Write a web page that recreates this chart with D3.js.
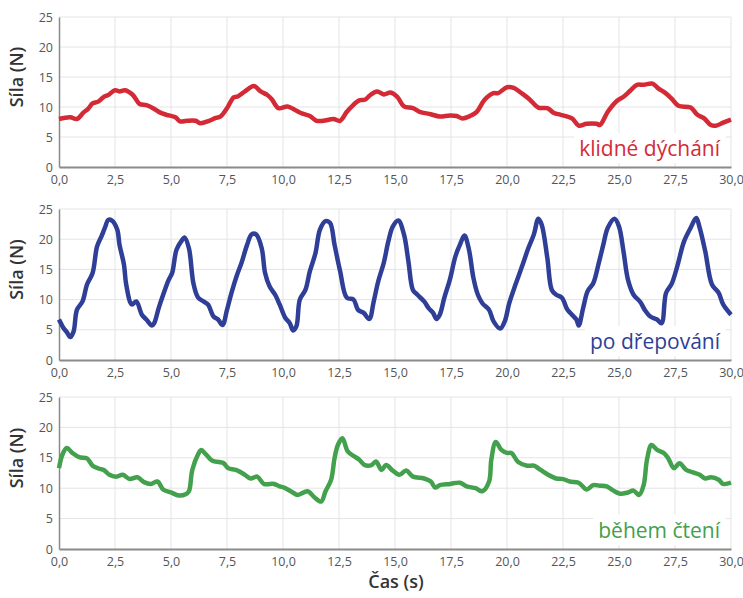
<!DOCTYPE html>
<html>
<head>
<meta charset="utf-8">
<script src="https://cdn.jsdelivr.net/npm/d3@7"></script>
<style>
  body { margin: 0; background: #fff; }
  text { font-family: "Open Sans", "Noto Sans", sans-serif; }
</style>
</head>
<body>
<svg id="svg"></svg>
<script>
// data: time (s) and force (N)
var klidneT = [0,0.5,0.8,1.1,1.3,1.5,1.75,2.0,2.2,2.5,2.7,2.95,3.3,3.6,3.9,4.2,4.5,4.8,5.2,5.4,5.7,6.1,6.3,6.7,7.0,7.2,7.5,7.8,8.0,8.3,8.7,9.0,9.3,9.5,9.8,10.2,10.5,10.8,11.2,11.5,11.8,12.25,12.55,12.85,13.1,13.4,13.65,13.9,14.2,14.5,14.8,15.1,15.4,15.8,16.1,16.6,17.0,17.45,17.75,18.0,18.35,18.65,19.0,19.4,19.6,20.0,20.3,20.65,21.0,21.4,21.8,22.1,22.4,22.9,23.2,23.55,24.0,24.15,24.5,24.9,25.2,25.5,25.8,26.1,26.5,26.75,27.05,27.35,27.65,28.2,28.5,28.8,29.1,29.35,29.65,30.0];
var klidneF = [8.0,8.3,8.0,9.1,9.7,10.6,10.9,11.7,12.0,12.8,12.6,12.8,12.0,10.5,10.3,9.8,9.1,8.7,8.3,7.6,7.7,7.7,7.3,7.7,8.2,8.4,9.8,11.6,11.8,12.6,13.5,12.6,12.0,11.3,9.8,10.1,9.6,9.0,8.5,7.7,7.7,8.0,7.7,9.2,10.2,11.1,11.2,12.0,12.6,12.1,12.4,11.7,10.1,9.8,9.2,8.8,8.4,8.6,8.5,8.1,8.5,9.2,11.2,12.3,12.3,13.3,13.2,12.3,11.3,9.9,9.8,9.0,8.7,8.1,6.9,7.2,7.2,7.0,9.2,11.0,11.7,12.7,13.7,13.7,13.9,13.1,12.4,11.4,10.2,9.9,8.7,8.1,7.0,6.9,7.4,7.9];

var drepT = [0,0.2,0.35,0.5,0.65,0.8,1.05,1.25,1.5,1.7,1.9,2.05,2.2,2.35,2.6,2.7,2.9,3.0,3.25,3.45,3.7,3.9,4.15,4.25,4.45,4.65,4.9,5.05,5.25,5.5,5.6,5.8,6.0,6.2,6.45,6.65,6.9,7.1,7.3,7.5,7.7,7.95,8.15,8.4,8.6,8.8,9.05,9.2,9.4,9.65,9.85,10.1,10.3,10.45,10.6,10.75,11.0,11.2,11.45,11.65,11.9,12.1,12.3,12.55,12.85,13.15,13.35,13.6,13.85,14.05,14.25,14.5,14.7,14.9,15.15,15.4,15.6,15.8,16.0,16.3,16.5,16.7,16.85,17.0,17.2,17.45,17.7,17.9,18.1,18.3,18.5,18.7,18.9,19.2,19.4,19.7,19.9,20.1,20.4,20.7,20.95,21.2,21.4,21.55,21.8,22.0,22.2,22.45,22.7,22.9,23.1,23.2,23.4,23.6,23.85,24.1,24.3,24.5,24.8,25.0,25.2,25.4,25.65,25.95,26.15,26.4,26.7,26.9,27.1,27.35,27.6,27.9,28.2,28.45,28.6,28.85,29.15,29.45,29.65,30.0];
var drepF = [6.7,5.3,4.6,3.8,4.7,8.3,9.7,12.5,14.4,18.8,20.5,21.9,23.2,23.1,21.6,19.1,15.8,12.5,9.2,9.7,7.5,6.7,5.7,6.1,8.6,10.8,13.3,14.4,18.3,19.9,20.3,18.5,12.7,10.4,9.7,9.2,7.2,6.7,5.8,8.3,11.1,14.1,16.1,19.1,20.8,20.8,18.5,14.4,12.2,10.8,9.2,7.0,6.1,4.9,5.6,10.0,11.6,14.7,17.7,21.6,23.0,22.7,19.1,14.7,10.3,10.0,8.3,7.8,6.8,9.7,13.0,16.1,19.6,22.1,23.1,20.8,16.3,11.6,10.8,9.7,8.6,7.8,6.8,7.5,10.3,13.3,17.2,19.1,20.6,18.3,13.6,10.8,9.4,8.3,6.4,5.2,6.4,9.4,12.7,15.8,18.5,20.8,23.4,22.4,16.9,11.6,10.8,10.3,8.3,7.5,6.7,5.7,8.6,11.4,12.7,16.1,19.1,21.9,23.4,22.1,18.0,13.3,10.8,9.6,8.3,7.2,6.7,6.1,11.1,12.6,15.5,19.6,21.9,23.5,21.9,18.0,12.5,11.1,9.2,7.5];

var cteniT = [0,0.15,0.35,0.6,0.9,1.25,1.5,1.8,2.0,2.25,2.55,2.85,3.15,3.5,3.8,4.1,4.4,4.65,5.0,5.35,5.65,5.8,5.95,6.2,6.35,6.55,6.85,7.15,7.35,7.55,7.9,8.3,8.55,8.85,9.15,9.6,9.85,10.05,10.35,10.65,11.1,11.4,11.7,11.9,12.15,12.3,12.45,12.65,12.9,13.2,13.4,13.65,13.95,14.15,14.4,14.6,14.9,15.2,15.5,15.8,16.3,16.6,16.8,17.0,17.45,17.9,18.2,18.6,18.9,19.2,19.3,19.5,19.75,20.0,20.2,20.5,20.9,21.2,21.5,21.8,22.2,22.5,22.8,23.2,23.55,23.85,24.15,24.45,24.75,25.05,25.4,25.65,25.9,26.1,26.25,26.45,26.7,27.0,27.2,27.45,27.7,28.0,28.3,28.6,28.85,29.1,29.45,29.65,30.0];
var cteniF = [13.3,15.5,16.6,15.8,15.1,14.9,13.7,13.2,13.0,12.2,11.9,12.2,11.5,11.8,11.0,10.7,11.1,9.8,9.3,8.8,9.0,9.5,13.0,15.5,16.3,15.6,14.5,14.3,14.1,13.3,13.0,12.2,11.6,11.9,10.7,10.7,10.3,10.1,9.5,8.9,9.5,8.5,7.8,9.5,11.4,14.9,17.1,18.2,16.0,15.2,14.7,13.8,13.8,14.4,13.0,13.8,12.9,12.2,12.9,11.9,11.6,11.1,10.1,10.5,10.7,10.9,10.3,10.0,9.5,11.1,14.7,17.6,16.3,15.8,15.8,14.3,13.7,13.7,13.0,12.3,11.6,11.5,11.1,10.9,9.8,10.5,10.4,10.3,9.6,9.1,9.3,9.6,8.9,10.5,14.7,17.1,16.3,15.8,14.9,13.3,14.1,13.0,12.6,12.2,11.6,11.8,11.4,10.7,10.9];

var xTicks = [0,2.5,5,7.5,10,12.5,15,17.5,20,22.5,25,27.5,30];
var yTicks = [0,5,10,15,20,25];

var panels = [
  {t: klidneT, f: klidneF, name: "klidné dýchání", color: "#d42a35", top: 17, bottom: 167},
  {t: drepT, f: drepF, name: "po dřepování", color: "#2f3e97", top: 209, bottom: 360},
  {t: cteniT, f: cteniF, name: "během čtení", color: "#43a04c", top: 397, bottom: 549}
];

var W = 743, H = 598;
var left = 59, right = 731;

var svg = d3.select("#svg")
    .attr("width", W)
    .attr("height", H);

var x_scale = d3.scaleLinear().domain([0, 30]).range([left, right]);
var fmt = function(d){ return d3.format(".1f")(d).replace(".", ","); };

panels.forEach(function(p){
  var y_scale = d3.scaleLinear().domain([0, 25]).range([p.bottom, p.top]);
  var g = svg.append("g");

  // grid
  g.selectAll(".hg").data(yTicks.slice(1)).enter().append("line")
    .attr("x1", left).attr("x2", right)
    .attr("y1", function(d){ return y_scale(d); })
    .attr("y2", function(d){ return y_scale(d); })
    .attr("stroke", "#e4e4e4").attr("stroke-width", 1);
  g.selectAll(".vg").data(xTicks.slice(1)).enter().append("line")
    .attr("x1", function(d){ return x_scale(d); })
    .attr("x2", function(d){ return x_scale(d); })
    .attr("y1", p.top).attr("y2", p.bottom)
    .attr("stroke", "#e4e4e4").attr("stroke-width", 1);

  // axes
  var xAxis = g.append("g")
    .attr("transform", "translate(0," + p.bottom + ")")
    .call(d3.axisBottom(x_scale).tickValues(xTicks).tickFormat(fmt).tickSize(0).tickPadding(8));
  xAxis.select(".domain").attr("stroke", "#8a8a8a").attr("stroke-width", 2);
  xAxis.selectAll("text").attr("fill", "#555").style("font-size", "12.5px");

  var yAxis = g.append("g")
    .attr("transform", "translate(" + left + ",0)")
    .call(d3.axisLeft(y_scale).tickValues(yTicks).tickSize(0).tickPadding(6));
  yAxis.select(".domain").attr("stroke", "#8a8a8a").attr("stroke-width", 1.5);
  yAxis.selectAll("text").attr("fill", "#555").style("font-size", "12.5px");

  g.append("text")
    .attr("transform", "translate(23," + ((p.top + p.bottom) / 2 - 15) + ") rotate(-90)")
    .attr("text-anchor", "middle")
    .attr("fill", "#333")
    .style("font-size", "18px")
    .style("font-weight", 600)
    .text("Síla (N)");

  // line
  var lineData = p.t.map(function(t, i){ return {t: t, f: p.f[i]}; });
  var lineFunction = d3.line()
    .x(function(d){ return x_scale(d.t); })
    .y(function(d){ return y_scale(d.f); })
    .curve(d3.curveCatmullRom.alpha(0.5));
  g.append("path")
    .attr("d", lineFunction(lineData))
    .attr("stroke", p.color)
    .attr("stroke-width", 4.5)
    .attr("stroke-linejoin", "round")
    .attr("fill", "none");

  // series label with white box behind it
  var box = g.append("rect").attr("fill", "#fff");
  var lab = g.append("text")
    .attr("x", 720)
    .attr("y", p.bottom - 11)
    .attr("text-anchor", "end")
    .attr("fill", p.color)
    .style("font-size", "21px")
    .text(p.name);
  var bb = lab.node().getBBox();
  box.attr("x", bb.x - 5).attr("y", bb.y - 1)
    .attr("width", bb.width + 10).attr("height", bb.height + 2);
});

svg.append("text")
  .attr("x", 396)
  .attr("y", 588)
  .attr("text-anchor", "middle")
  .attr("fill", "#333")
  .style("font-size", "18px")
  .style("font-weight", 600)
  .text("Čas (s)");
</script>
</body>
</html>
